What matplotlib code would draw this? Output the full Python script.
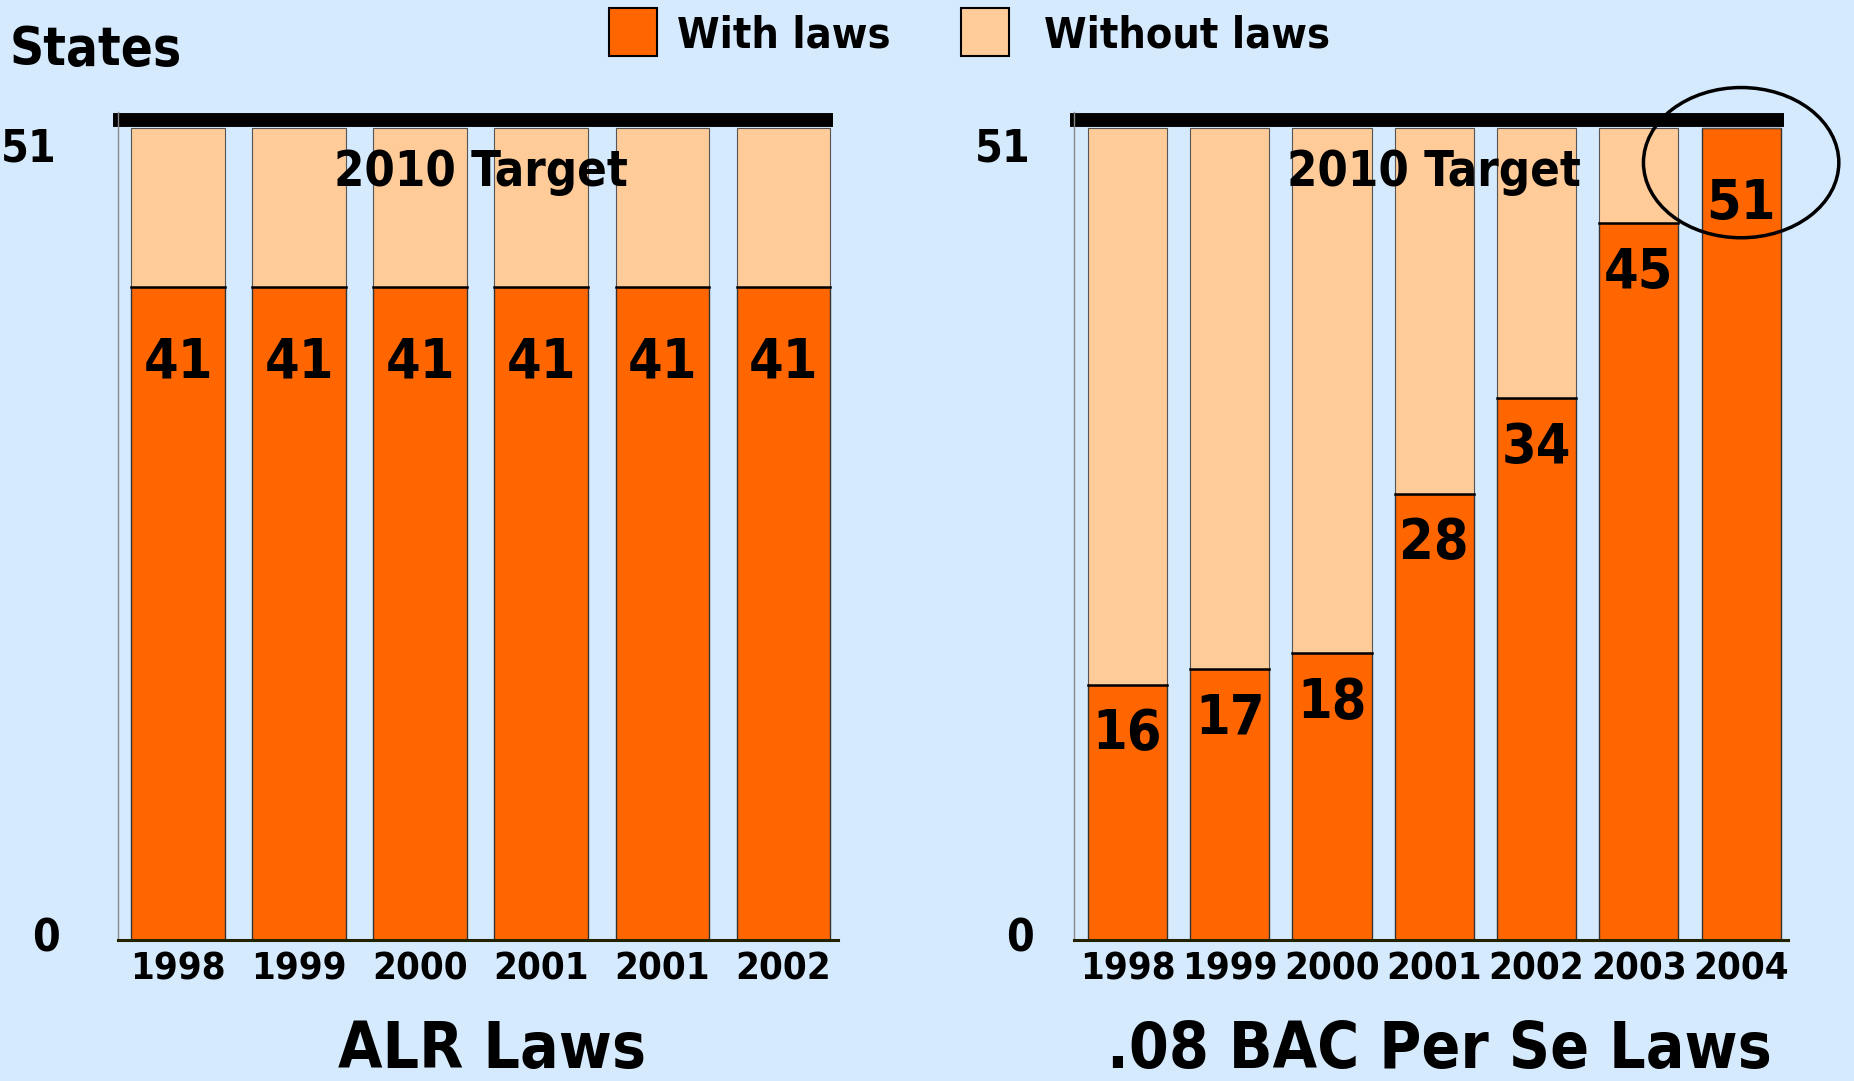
import matplotlib
matplotlib.use("Agg")
import matplotlib.pyplot as plt
from matplotlib.patches import Rectangle, Ellipse

# Data
alr_years = ["1998", "1999", "2000", "2001", "2001", "2002"]
alr_with = [41, 41, 41, 41, 41, 41]
bac_years = ["1998", "1999", "2000", "2001", "2002", "2003", "2004"]
bac_with = [16, 17, 18, 28, 34, 45, 51]
TOTAL = 51

BG = "#D6EAFD"
ORANGE = "#FF6600"
PEACH = "#FFCC99"

plt.rcParams["font.family"] = "DejaVu Sans"
plt.rcParams["font.weight"] = "bold"
plt.rcParams["font.stretch"] = "condensed"

fig = plt.figure(figsize=(18.54, 10.81), dpi=100, facecolor=BG)
ax1 = fig.add_axes([0.0634, 0.1304, 0.3886, 0.7663])
ax2 = fig.add_axes([0.5791, 0.1304, 0.3854, 0.7663])


def draw_panel(ax, years, with_laws, xlim, label_offset, title, ylab_x, title_x):
    x = list(range(len(years)))
    without = [TOTAL - v for v in with_laws]
    ax.set_facecolor(BG)
    ax.bar(x, with_laws, width=0.775, color=ORANGE, edgecolor="#333333", linewidth=1)
    ax.bar(x, without, bottom=with_laws, width=0.775, color=PEACH,
           edgecolor="#555555", linewidth=0.8)
    # stronger line at the split
    for xi, v in zip(x, with_laws):
        if v < TOTAL:
            ax.plot([xi - 0.3875, xi + 0.3875], [v, v], color="black", lw=1.8)
    ax.set_xlim(*xlim)
    ax.set_ylim(0, 52)
    ax.set_xticks(x)
    ax.set_xticklabels(years, fontsize=27.5, fontweight="bold")
    ax.tick_params(axis="x", length=0, pad=8)
    ax.set_yticks([])
    for s in ["top", "right"]:
        ax.spines[s].set_visible(False)
    ax.spines["left"].set_color("#888888")
    ax.spines["left"].set_linewidth(1)
    ax.spines["bottom"].set_color("#222200")
    ax.spines["bottom"].set_linewidth(2.2)
    # 2010 target line
    ax.hlines(51.45, xlim[0] - 0.04, xlim[1] - 0.04, color="black", lw=10, clip_on=False)
    ax.text((x[0] + x[-1]) / 2, 48.2, "2010 Target", ha="center", va="center",
            fontsize=35, fontweight="bold")
    for xi, v in zip(x, with_laws):
        off = label_offset if v < TOTAL else 4.8
        ax.text(xi, v - off, str(v), ha="center", va="center", fontsize=40,
                fontweight="bold")
    ax.text(ylab_x, 51, "51", transform=ax.get_yaxis_transform(), ha="right",
            va="top", fontsize=32, fontweight="bold")
    ax.text(ylab_x + 0.005, 0.05, "0", transform=ax.get_yaxis_transform(), ha="right",
            va="center", fontsize=32, fontweight="bold")
    ax.text(title_x, -0.133, title, transform=ax.transAxes, ha="center", va="center",
            fontsize=46, fontweight="bold")


draw_panel(ax1, alr_years, alr_with, (-0.5, 5.45), 4.75, "ALR Laws", -0.085, 0.52)
draw_panel(ax2, bac_years, bac_with, (-0.526, 6.46), 3.1, ".08 BAC Per Se Laws",
           -0.06, 0.512)

ax2.add_patch(Ellipse((6.0, 48.8), 1.91, 9.43, fill=False, edgecolor="black",
                      lw=2.5, clip_on=False))

fig.text(10 / 1854, 1 - 50 / 1081, "States", ha="left", va="center", fontsize=38,
         fontweight="bold")

# legend
for (x0, tx, label, color) in [(609, 677, "With laws", ORANGE),
                               (961, 1044, "Without laws", PEACH)]:
    fig.patches.append(Rectangle((x0 / 1854, 1 - 56 / 1081), 48 / 1854, 48 / 1081,
                                 transform=fig.transFigure, facecolor=color,
                                 edgecolor="black", lw=1.5))
    fig.text(tx / 1854, 1 - 35 / 1081, label, ha="left", va="center",
             fontsize=31, fontweight="bold")

plt.savefig("out.png", dpi=100, facecolor=BG)
